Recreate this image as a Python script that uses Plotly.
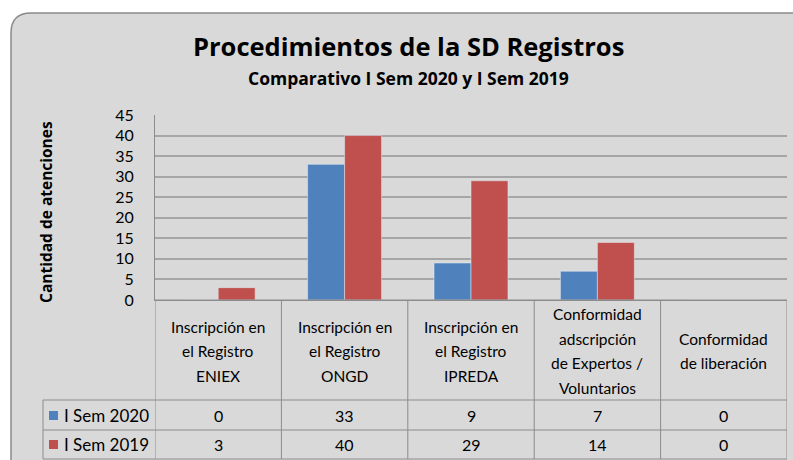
import plotly.graph_objects as go

# ---- data ----
categories = ["ENIEX", "ONGD", "IPREDA", "Expertos", "Liberacion"]
category_labels = [
    ["Inscripción en", "el Registro", "ENIEX"],
    ["Inscripción en", "el Registro", "ONGD"],
    ["Inscripción en", "el Registro", "IPREDA"],
    ["Conformidad", "adscripción", "de Expertos /", "Voluntarios"],
    ["Conformidad", "de liberación"],
]
series_names = ["I Sem 2020", "I Sem 2019"]
sem2020 = [0, 33, 9, 7, 0]
sem2019 = [3, 40, 29, 14, 0]
y_ticks = [0, 5, 10, 15, 20, 25, 30, 35, 40, 45]

title = "Procedimientos de la SD Registros"
subtitle = "Comparativo I Sem 2020 y I Sem 2019"
y_title = "Cantidad de atenciones"

# ---- layout geometry (pixels) ----
W, H = 793, 460
L, R, T, B = 155, 787, 115, 300
PW, PH = R - L, B - T
FONT = "Lato"
BFONT = "Open Sans"
BLUE, RED = "#4f81bd", "#c0504d"
GRAY = "#d9d9d9"
LINE = "#8c8c8c"


def px(x):
    return (x - L) / PW


def py(y):
    return (B - y) / PH


fig = go.Figure()
fig.add_bar(x=categories, y=sem2020, name=series_names[0], marker_color=BLUE)
fig.add_bar(x=categories, y=sem2019, name=series_names[1], marker_color=RED)

shapes = []
# rounded chart background
x0, y0, x1, y1 = px(11), py(13), px(805), py(475)
rx, ry = 20 / PW, 20 / PH
path = (f"M {x0},{y1} L {x0},{y0 - ry} Q {x0},{y0} {x0 + rx},{y0} "
        f"L {x1},{y0} L {x1},{y1} Z")
shapes.append(dict(type="path", path=path, xref="paper", yref="paper",
                   fillcolor=GRAY, line=dict(color="#8a8a8a", width=1.5),
                   layer="below"))

# table lines
row_y = [300, 400, 430, 459]
for i, yy in enumerate(row_y):
    xs = L if i == 0 else 43
    shapes.append(dict(type="line", xref="paper", yref="paper",
                       x0=px(xs), x1=px(R), y0=py(yy), y1=py(yy),
                       line=dict(color=LINE, width=1)))
for k in range(len(categories) + 1):
    shapes.append(dict(type="line", xref="x", yref="paper",
                       x0=k - 0.5, x1=k - 0.5, y0=py(300), y1=py(459),
                       line=dict(color=LINE, width=1)))
shapes.append(dict(type="line", xref="paper", yref="paper",
                   x0=px(43), x1=px(43), y0=py(400), y1=py(459),
                   line=dict(color=LINE, width=1)))

annotations = []
annotations.append(dict(text=f"<b>{title}</b>", xref="paper", yref="paper",
                        x=px(408), y=py(46), showarrow=False,
                        font=dict(family=BFONT, size=25.5, color="black"),
                        xanchor="center", yanchor="middle"))
annotations.append(dict(text=f"<b>{subtitle}</b>", xref="paper", yref="paper",
                        x=px(408), y=py(78), showarrow=False,
                        font=dict(family=BFONT, size=17.5, color="black"),
                        xanchor="center", yanchor="middle"))
annotations.append(dict(text=f"<b>{y_title}</b>", xref="paper", yref="paper",
                        x=px(46), y=py(212), showarrow=False, textangle=-90,
                        font=dict(family=BFONT, size=15.5, color="black"),
                        xanchor="center", yanchor="middle"))

# header cells
line_h = 24.5
for cat, lines in zip(categories, category_labels):
    n = len(lines)
    for j, t in enumerate(lines):
        yc = 351 + (j - (n - 1) / 2) * line_h
        annotations.append(dict(text=t, xref="x", yref="paper", x=cat,
                                y=py(yc), showarrow=False,
                                font=dict(family=FONT, size=15.5, color="black"),
                                xanchor="center", yanchor="middle"))

# value rows + legend keys
row_centers = [415.5, 444.5]
colors = [BLUE, RED]
for name, vals, yc, col in zip(series_names, [sem2020, sem2019], row_centers, colors):
    for cat, v in zip(categories, vals):
        annotations.append(dict(text=str(v), xref="x", yref="paper", x=cat,
                                y=py(yc), showarrow=False,
                                font=dict(family=FONT, size=16, color="black"),
                                xanchor="center", yanchor="middle"))
    shapes.append(dict(type="rect", xref="paper", yref="paper",
                       x0=px(49), x1=px(58), y0=py(yc - 4.5), y1=py(yc + 4.5),
                       fillcolor=col, line=dict(width=0)))
    annotations.append(dict(text=name, xref="paper", yref="paper",
                            x=px(62), y=py(yc), showarrow=False,
                            font=dict(family=FONT, size=17, color="black"),
                            xanchor="left", yanchor="middle"))

fig.update_layout(
    width=W, height=H,
    margin=dict(l=L, r=W - R, t=T, b=H - B, pad=0),
    paper_bgcolor="white", plot_bgcolor="white",
    barmode="group", bargap=0.415, bargroupgap=0,
    showlegend=False,
    shapes=shapes, annotations=annotations,
    font=dict(family=FONT, size=15, color="black"),
)
fig.update_xaxes(type="category", range=[-0.5, 4.5], showticklabels=False,
                 showgrid=False, showline=True, linecolor=LINE, linewidth=1,
                 ticks="", zeroline=False)
fig.update_yaxes(range=[0, 45], tickvals=y_ticks, showgrid=True,
                 gridcolor="#a6a6a6", gridwidth=1.5, zeroline=False,
                 showline=True, linecolor=LINE, linewidth=1, ticks="",
                 ticklabelstandoff=17,
                 tickfont=dict(family=FONT, size=16, color="black"))

fig.write_html("out.html", config={"displayModeBar": False},
               post_script="document.body.style.margin='0';document.body.style.overflow='hidden';")
